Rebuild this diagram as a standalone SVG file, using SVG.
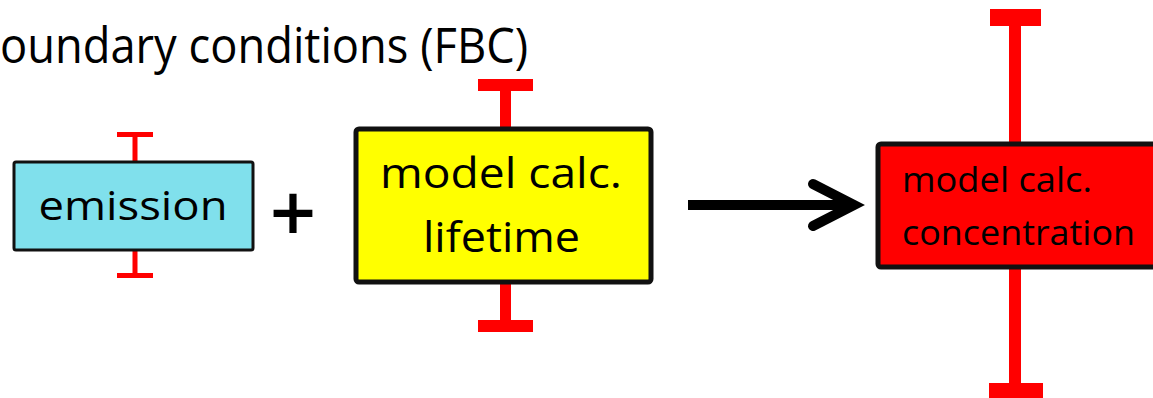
<svg xmlns="http://www.w3.org/2000/svg" width="1153" height="398" viewBox="0 0 1153 398">
<style>
.t{font-family:"Open Sans","Noto Sans",sans-serif;fill:#000}
.box{stroke:#111;stroke-linejoin:round}
.err{fill:#ff0000}
</style>
<rect width="1153" height="398" fill="#fff"/>
<g id="title">
<text class="t" x="0" y="63" font-size="50" textLength="528" lengthAdjust="spacingAndGlyphs">oundary conditions (FBC)</text>
</g>
<g id="emission">
<rect class="err" x="117" y="132" width="36" height="5"/>
<rect class="err" x="132.5" y="132" width="5" height="30"/>
<rect class="err" x="132.5" y="250" width="5" height="26"/>
<rect class="err" x="117" y="273" width="36" height="5"/>
<rect class="box" x="14" y="162" width="239" height="88" rx="2" fill="#80E0EC" stroke-width="3"/>
<text class="t" x="133" y="220" font-size="41" text-anchor="middle" textLength="189" lengthAdjust="spacingAndGlyphs">emission</text>
</g>
<g id="plus">
<text x="293" y="233" font-family="DejaVu Sans" font-weight="bold" font-size="62" text-anchor="middle" fill="#000">+</text>
</g>
<g id="lifetime">
<rect class="err" x="478" y="79" width="55" height="12"/>
<rect class="err" x="500" y="79" width="11" height="50"/>
<rect class="err" x="500" y="282" width="11" height="45"/>
<rect class="err" x="478" y="320" width="55" height="12"/>
<rect class="box" x="356" y="129" width="295" height="153" rx="3" fill="#FFFF00" stroke-width="5"/>
<text class="t" x="501" y="188" font-size="42" text-anchor="middle" textLength="242" lengthAdjust="spacingAndGlyphs">model calc.</text>
<text class="t" x="501.5" y="252" font-size="42" text-anchor="middle" textLength="157" lengthAdjust="spacingAndGlyphs">lifetime</text>
</g>
<g id="concentration">
<rect class="err" x="990" y="9" width="51" height="17"/>
<rect class="err" x="1009" y="9" width="12" height="136"/>
<rect class="err" x="1009" y="266" width="12" height="125"/>
<rect class="err" x="989" y="383" width="54" height="17"/>
<rect class="box" x="878" y="144" width="300" height="123" rx="3" fill="#FF0000" stroke-width="5"/>
<text class="t" x="902" y="192" font-size="35" textLength="190" lengthAdjust="spacingAndGlyphs">model calc.</text>
<text class="t" x="902" y="245" font-size="35" textLength="233" lengthAdjust="spacingAndGlyphs">concentration</text>
</g>
<g id="connectors">
<path d="M688 205 H850" stroke="#000" stroke-width="10" fill="none"/>
<path d="M813 184 L854 205 L813 226" stroke="#000" stroke-width="10" fill="none" stroke-linecap="round" stroke-linejoin="miter"/>
</g>
</svg>
